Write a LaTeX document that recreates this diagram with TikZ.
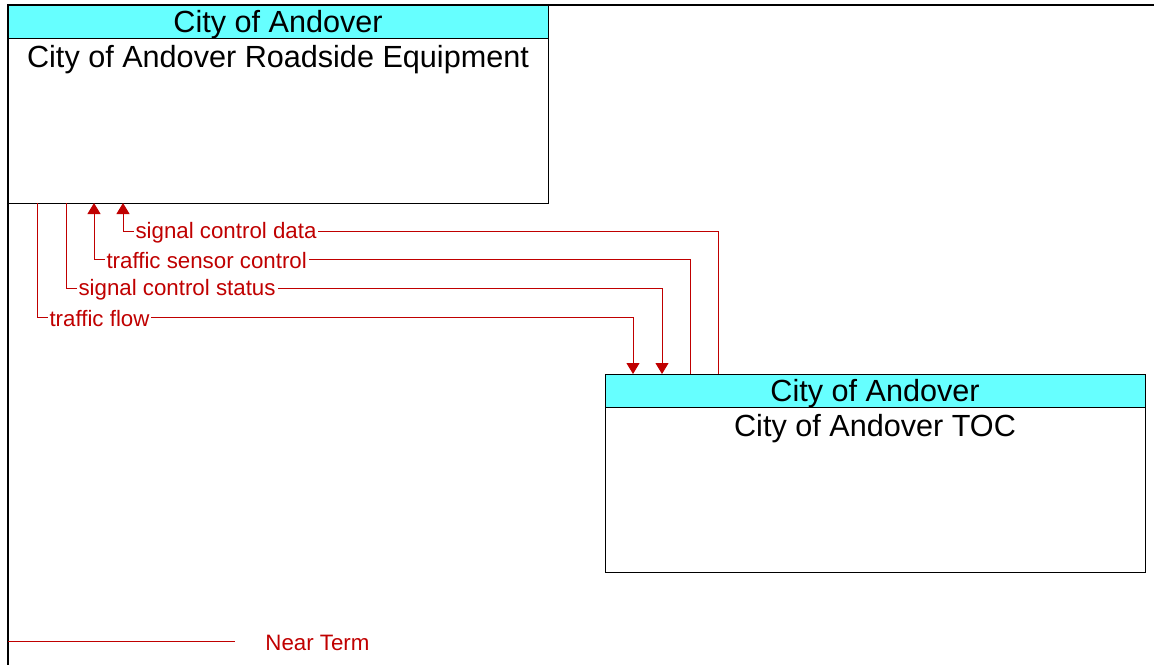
\documentclass[tikz,border=0pt]{standalone}
\usepackage{fontspec}
\setmainfont{Liberation Sans}
\usepackage{tikz}
\usetikzlibrary{positioning, arrows.meta, calc}
\definecolor{flowred}{RGB}{192,0,0}
\definecolor{hdrcyan}{RGB}{102,255,255}
\begin{document}
\begin{tikzpicture}[x=0.5pt, y=-0.5pt,
      hdr/.style={draw, fill=hdrcyan, line width=0.5pt, outer sep=0pt, minimum width=270pt, minimum height=16.5pt, inner sep=0pt, text height=13pt, text depth=2.2pt, font=\fontsize{15.3}{17}\selectfont},
      sysbox/.style={draw, line width=0.5pt, outer sep=0pt, minimum width=270pt, minimum height=82.5pt},
      sysname/.style={inner sep=0pt, font=\fontsize{15.3}{17}\selectfont},
      flow/.style={draw=flowred, line width=0.5pt},
      arr/.style={-{Triangle[length=5.5pt, width=6.5pt]}},
      lbl/.style={anchor=west, xshift=5pt, yshift=-1pt, fill=white, inner sep=1pt, text=flowred, font=\fontsize{11.15}{13}\selectfont},
      frame/.style={draw, line width=1pt}]
      \useasboundingbox (0,0) rectangle (1154,665);
      \draw[frame] (1154,5) -- (8,5) -- (8,665);
      \node[hdr, anchor=north west] (rsehdr) at (8,5) {City of Andover};
      \node[sysbox, anchor=north] (rse) at (rsehdr.south) {};
      \node[sysname] (rsename) at ($(rse.north)+(0,22)$) {City of Andover Roadside Equipment};
      \node[hdr, anchor=north west] (tochdr) at (605,374) {City of Andover};
      \node[sysbox, anchor=north] (toc) at (tochdr.south) {};
      \node[sysname] (tocname) at ($(toc.north)+(0,22)$) {City of Andover TOC};
      \coordinate (scd0) at ($(tochdr.north west)+(113,0)$);
      \coordinate (scd1) at ($(rse.south west)+(115,28)$);
      \coordinate (tsc0) at ($(tochdr.north west)+(85,0)$);
      \coordinate (tsc1) at ($(rse.south west)+(86,56)$);
      \coordinate (scs0) at ($(rse.south west)+(58,0)$);
      \coordinate (scs1) at ($(rse.south west)+(58,85)$);
      \coordinate (tf0) at ($(rse.south west)+(29,0)$);
      \coordinate (tf1) at ($(rse.south west)+(29,114)$);
      \draw[flow, arr] (scd0) |- (scd1) node[lbl] {signal control data} -- (scd1 |- rse.south);
      \draw[flow, arr] (tsc0) |- (tsc1) node[lbl] {traffic sensor control} -- (tsc1 |- rse.south);
      \draw[flow, arr] (scs0) -- (scs1) node[lbl] {signal control status} -| ($(tochdr.north west)+(57,0)$);
      \draw[flow, arr] (tf0) -- (tf1) node[lbl] {traffic flow} -| ($(tochdr.north west)+(28,0)$);
      \coordinate (lg0) at (8,641);
      \coordinate (lg1) at (235,641);
      \draw[flow] (lg0) -- (lg1);
      \node[text=flowred, anchor=west, inner sep=0pt, yshift=-1pt, font=\fontsize{11.15}{13}\selectfont] (lgtxt) at (265,641) {Near Term};
    \end{tikzpicture}
\end{document}
